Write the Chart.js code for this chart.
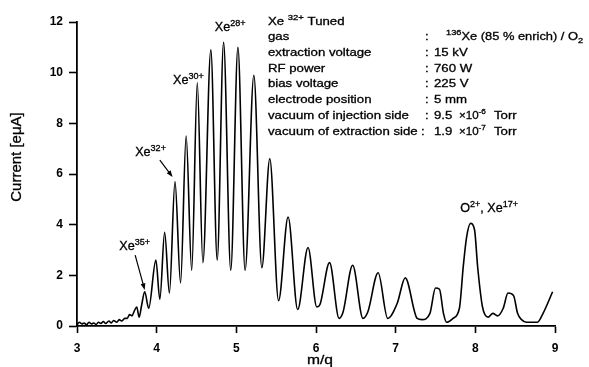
<!DOCTYPE html>
<html>
<head>
<meta charset="utf-8">
<script src="https://cdn.jsdelivr.net/npm/chart.js@4/dist/chart.umd.min.js"></script>
<style>
  html, body { margin: 0; padding: 0; background: #fff; }
  #wrap { width: 589px; height: 367px; position: relative; }
</style>
</head>
<body>
<div id="wrap"><canvas id="chart"></canvas></div>
<script>
const FONT = '"Liberation Sans", Arial, Helvetica, sans-serif';

// m/q positions
const mq = [
  3.00, 3.03, 3.06, 3.09, 3.12, 3.15, 3.18, 3.21, 3.24, 3.27,
  3.30, 3.33, 3.36, 3.40, 3.43, 3.46, 3.50, 3.53, 3.56, 3.60,
  3.63, 3.66, 3.69, 3.72, 3.75, 3.78, 3.81, 3.85, 3.90, 3.99,
  4.04, 4.10, 4.16, 4.23, 4.30, 4.37, 4.44, 4.51, 4.58, 4.68,
  4.76, 4.84, 4.93, 5.02, 5.11, 5.22, 5.32, 5.42, 5.53, 5.65,
  5.77, 5.90, 6.01, 6.05, 6.17, 6.29, 6.34, 6.46, 6.59, 6.65,
  6.78, 6.90, 7.02, 7.12, 7.27, 7.33, 7.43, 7.50, 7.55, 7.60,
  7.64, 7.72, 7.80, 7.85, 7.89, 7.94, 7.99, 8.03, 8.09, 8.16,
  8.22, 8.28, 8.35, 8.41, 8.48, 8.53, 8.58, 8.64, 8.78, 8.85,
  8.97
];
// beam current [eμA]
const current = [
  0.05, 0.15, 0.08, 0.12, 0.05, 0.15, 0.08, 0.12, 0.06, 0.15,
  0.10, 0.18, 0.10, 0.20, 0.12, 0.22, 0.15, 0.25, 0.20, 0.30,
  0.30, 0.45, 0.40, 0.60, 0.75, 0.35, 0.80, 1.35, 0.70, 2.60,
  1.05, 3.70, 1.30, 5.70, 1.70, 7.50, 2.20, 9.60, 2.50, 10.90,
  2.60, 11.20, 2.20, 11.00, 2.20, 9.90, 2.30, 6.60, 1.00, 4.30,
  0.65, 3.10, 0.75, 0.85, 2.50, 0.30, 0.55, 2.40, 0.30, 0.55,
  2.10, 0.30, 0.90, 1.90, 0.30, 0.25, 0.50, 1.50, 1.45, 0.50,
  0.15, 0.30, 0.70, 2.40, 3.50, 4.05, 3.80, 2.30, 0.75, 0.35,
  0.50, 0.40, 0.70, 1.30, 1.20, 0.50, 0.25, 0.15, 0.15, 0.50,
  1.35
];

const xTicks = [3, 4, 5, 6, 7, 8, 9];
const yTicks = [0, 2, 4, 6, 8, 10, 12];

// peak labels: [parts, m/q, current]
const peakLabels = [
  [[["Xe"], ["28+", "sup"]], 4.73, 11.65],
  [[["Xe"], ["30+", "sup"]], 4.205, 9.55],
  [[["Xe"], ["32+", "sup"]], 3.73, 6.71],
  [[["Xe"], ["35+", "sup"]], 3.53, 3.0],
  [[["O"], ["2+", "sup"], [", Xe"], ["17+", "sup"]], 7.81, 4.5],
];
// arrows: [from m/q, from current, to m/q, to current]
const arrows = [
  [4.04, 6.55, 4.2, 5.88],
  [3.73, 2.8, 3.85, 1.42],
];

const paramLabels = [
  "gas", "extraction voltage", "RF power", "bias voltage",
  "electrode position", "vacuum of injection side", "vacuum of extraction side",
];

function drawRich(ctx, x, y, parts, size, stretch) {
  ctx.save();
  ctx.translate(x, y);
  ctx.scale(stretch, 1);
  let cx = 0;
  parts.forEach(([t, kind]) => {
    const s = kind ? size * 0.72 : size;
    ctx.font = `${s}px ${FONT}`;
    const dy = kind === "sup" ? -size * 0.42 : kind === "sub" ? size * 0.25 : 0;
    ctx.strokeText(t, cx, dy);
    ctx.fillText(t, cx, dy);
    cx += ctx.measureText(t).width;
  });
  ctx.restore();
}

function arrow(ctx, x1, y1, x2, y2) {
  const a = Math.atan2(y2 - y1, x2 - x1);
  ctx.beginPath();
  ctx.moveTo(x1, y1);
  ctx.lineTo(x2 - 5 * Math.cos(a), y2 - 5 * Math.sin(a));
  ctx.stroke();
  ctx.beginPath();
  ctx.moveTo(x2, y2);
  ctx.lineTo(x2 - 7 * Math.cos(a - 0.35), y2 - 7 * Math.sin(a - 0.35));
  ctx.lineTo(x2 - 7 * Math.cos(a + 0.35), y2 - 7 * Math.sin(a + 0.35));
  ctx.closePath();
  ctx.fill();
}

const annotations = {
  id: "annotations",
  afterDraw(chart) {
    const { ctx, scales: { x, y } } = chart;
    ctx.save();
    ctx.fillStyle = "#000";
    ctx.strokeStyle = "#000";
    ctx.textBaseline = "alphabetic";

    ctx.lineWidth = 1.2;
    arrows.forEach(([a, b, c, d]) => {
      arrow(ctx, x.getPixelForValue(a), y.getPixelForValue(b), x.getPixelForValue(c), y.getPixelForValue(d));
    });

    ctx.lineWidth = 0.3;
    peakLabels.forEach(([parts, mx, my]) => {
      drawRich(ctx, x.getPixelForValue(mx), y.getPixelForValue(my), parts, 12, 1.05);
    });

    // parameter table
    const lx = 268, cx = 425, vx = 434, st = 1.2, fs = 11;
    drawRich(ctx, lx, 25, [["Xe "], ["32+", "sup"], [" Tuned"]], fs, st);
    const rows = [40, 56, 71.5, 87, 103, 119, 135];
    paramLabels.forEach((t, i) => {
      drawRich(ctx, lx, rows[i], [[t]], fs, st);
      drawRich(ctx, cx - (i === 6 ? 4 : 0), rows[i], [[":"]], fs, st);
    });
    drawRich(ctx, 446, rows[0], [["136", "sup"], ["Xe (85 % enrich) / O"], ["2", "sub"]], fs, 1.17);
    drawRich(ctx, vx, rows[1], [["15 kV"]], fs, st);
    drawRich(ctx, vx, rows[2], [["760 W"]], fs, st);
    drawRich(ctx, vx, rows[3], [["225 V"]], fs, st);
    drawRich(ctx, vx, rows[4], [["5 mm"]], fs, st);
    [["9.5", "-6"], ["1.9", "-7"]].forEach(([m, e], i) => {
      const r = rows[5 + i];
      drawRich(ctx, vx, r, [[m]], fs, st);
      drawRich(ctx, 459, r, [["\u00d710"], [e, "sup"]], fs, 1.05);
      drawRich(ctx, 494, r, [["Torr"]], fs, st);
    });

    // axis titles
    ctx.save();
    ctx.translate(17, 157);
    ctx.rotate(-Math.PI / 2);
    ctx.font = `15px ${FONT}`;
    ctx.textAlign = "center";
    ctx.textBaseline = "middle";
    ctx.strokeText("Current [e\u03bcA]", 0, 0);
    ctx.fillText("Current [e\u03bcA]", 0, 0);
    ctx.restore();

    ctx.textAlign = "center";
    ctx.save();
    ctx.translate(320, 364);
    ctx.scale(1.2, 1);
    ctx.font = `13px ${FONT}`;
    ctx.strokeText("m/q", 0, 0);
    ctx.fillText("m/q", 0, 0);
    ctx.restore();
    ctx.restore();
  },
};

Chart.defaults.font.family = FONT;
Chart.defaults.color = "#000";

new Chart(document.getElementById("chart"), {
  type: "line",
  data: {
    datasets: [{
      data: mq.map((m, i) => ({ x: m, y: current[i] })),
      borderColor: "#000",
      borderWidth: 1.6,
      pointRadius: 0,
      fill: false,
      cubicInterpolationMode: "monotone",
    }],
  },
  options: {
    responsive: true,
    maintainAspectRatio: false,
    animation: false,
    layout: { padding: { top: 22, right: 34, left: 0, bottom: 0 } },
    plugins: { legend: { display: false }, tooltip: { enabled: false } },
    scales: {
      x: {
        type: "linear",
        min: 3,
        max: 9,
        afterBuildTicks: (s) => { s.ticks = xTicks.map((v) => ({ value: v })); },
        afterFit: (s) => { s.height = 41; },
        ticks: { font: { size: 12, weight: "bold" }, padding: 8 },
        grid: { drawOnChartArea: false, tickLength: 7, tickColor: "#000", tickWidth: 1.6 },
        border: { color: "#000", width: 1.8 },
      },
      y: {
        min: 0,
        max: 12,
        afterBuildTicks: (s) => { s.ticks = yTicks.map((v) => ({ value: v })); },
        afterFit: (s) => { s.width = 77; },
        ticks: { font: { size: 12, weight: "bold" }, padding: 6 },
        grid: { drawOnChartArea: false, tickLength: 8, tickColor: "#000", tickWidth: 1.6 },
        border: { color: "#000", width: 1.8 },
      },
    },
  },
  plugins: [annotations],
});
</script>
</body>
</html>
